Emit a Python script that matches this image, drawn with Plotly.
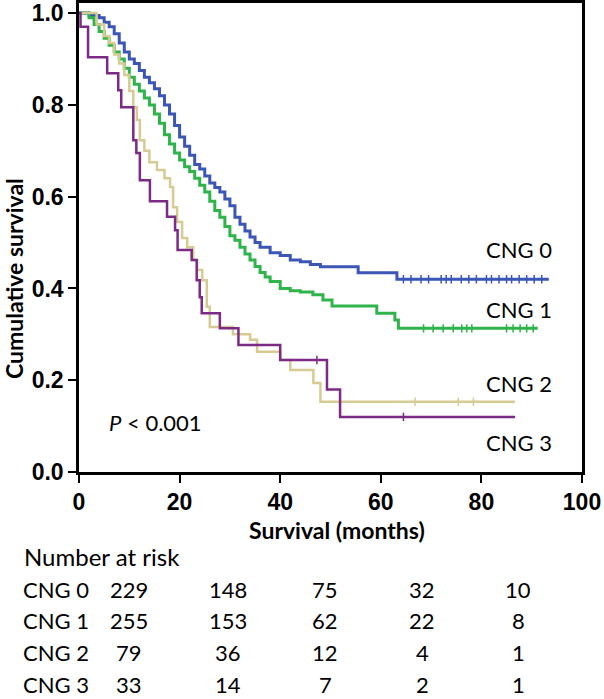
import plotly.graph_objects as go

# Kaplan-Meier curves (months, cumulative survival)
cng0_t = [0, 2, 4, 5, 6, 7, 8, 9, 10, 11, 12, 13, 14, 15, 16, 17, 18, 19, 20, 21, 22, 23, 24, 25,
          26, 27, 28, 29, 30, 31, 32, 33, 34, 35, 36, 38, 40, 42, 44, 46, 48, 55.5, 63.2, 93.4]
cng0_s = [1.0, 0.995, 0.99, 0.98, 0.97, 0.955, 0.935, 0.915, 0.9, 0.89, 0.875, 0.86, 0.848, 0.835,
          0.82, 0.80, 0.78, 0.755, 0.73, 0.71, 0.69, 0.67, 0.66, 0.645, 0.63, 0.62, 0.61, 0.595,
          0.58, 0.555, 0.54, 0.525, 0.512, 0.50, 0.49, 0.478, 0.472, 0.462, 0.458, 0.452, 0.447,
          0.434, 0.42, 0.42]
cng0_cens = [64.5, 66, 68, 69.5, 72, 73, 74, 76, 77.5, 79, 81, 82, 83.5, 85, 86, 87.5, 89, 90.5, 92]

cng1_t = [0, 2, 3, 4, 5, 6, 7, 8, 9, 10, 11, 12, 13, 14, 15, 16, 17, 18, 19, 20, 21, 22, 23, 24,
          25, 26, 27, 28, 29, 30, 31, 32, 33, 34, 35, 36, 37, 38, 40, 42, 44, 46.5, 48.5, 50.3,
          59.2, 62.8, 63.5, 91.2]
cng1_s = [1.0, 0.99, 0.975, 0.96, 0.945, 0.93, 0.915, 0.9, 0.88, 0.86, 0.845, 0.83, 0.815, 0.80,
          0.78, 0.76, 0.735, 0.715, 0.695, 0.68, 0.665, 0.655, 0.64, 0.625, 0.61, 0.59, 0.57,
          0.555, 0.535, 0.515, 0.505, 0.49, 0.475, 0.462, 0.448, 0.435, 0.425, 0.415, 0.40,
          0.395, 0.392, 0.386, 0.375, 0.362, 0.346, 0.331, 0.313, 0.313]
cng1_cens = [68.5, 70.4, 72.4, 74.4, 76.1, 77.1, 78.1, 85, 86.3, 87.7, 89, 90.3]

cng2_t = [0, 3.5, 5, 6, 7, 8, 9, 10, 10.8, 11.5, 12.1, 13, 14, 15.5, 17, 18.1, 18.7, 19.5, 20.5,
          21.5, 22.7, 23.5, 24.5, 25.4, 26, 30.6, 34, 35.4, 40, 42, 46.6, 48, 86.7]
cng2_s = [1.0, 0.975, 0.95, 0.935, 0.91, 0.89, 0.865, 0.83, 0.795, 0.767, 0.723, 0.70, 0.675,
          0.658, 0.64, 0.621, 0.577, 0.545, 0.51, 0.49, 0.462, 0.44, 0.418, 0.36, 0.316, 0.30,
          0.288, 0.262, 0.244, 0.222, 0.194, 0.153, 0.153]
cng2_cens = [66.8, 75.4, 78.4]

cng3_t = [0, 0.3, 1.8, 5.6, 7.8, 8.4, 10.8, 11.4, 12.1, 14.1, 17.5, 19.1, 19.6, 22.4, 23.4, 24.0,
          24.4, 28, 31.7, 40, 49.3, 51.9, 86.7]
cng3_s = [1.0, 0.97, 0.904, 0.869, 0.832, 0.795, 0.723, 0.695, 0.636, 0.59, 0.556, 0.527, 0.484,
          0.462, 0.418, 0.381, 0.346, 0.313, 0.277, 0.244, 0.18, 0.12, 0.12]
cng3_cens = [47.3, 64.5]

groups = ["CNG 0", "CNG 1", "CNG 2", "CNG 3"]
colors = ["#3b56b5", "#2fb34b", "#d5cb93", "#7b2b86"]

# number at risk table
risk_rows = [[229, 148, 75, 32, 10],
             [255, 153, 62, 22, 8],
             [79, 36, 12, 4, 1],
             [33, 14, 7, 2, 1]]

curves = [(cng0_t, cng0_s, cng0_cens), (cng1_t, cng1_s, cng1_cens),
          (cng2_t, cng2_s, cng2_cens), (cng3_t, cng3_s, cng3_cens)]

W, H = 604, 699
L, R, T, B = 79, 22, 3, 227
pw, ph = W - L - R, H - T - B


def px(x):
    return (x - L) / pw


def py(y):
    return (H - B - y) / ph


fig = go.Figure()

for (t, s, cens), name, col in zip(curves, groups, colors):
    fig.add_trace(go.Scatter(x=t, y=s, mode="lines", line_shape="hv", name=name,
                             line=dict(color=col, width=3 if col in colors[:2] else 2.5)))
    # censoring ticks
    cy = []
    for c in cens:
        v = s[0]
        for ti, si in zip(t, s):
            if ti <= c:
                v = si
        cy.append(v)
    fig.add_trace(go.Scatter(x=cens, y=cy, mode="markers", showlegend=False,
                             marker=dict(symbol="line-ns-open", size=6, color=col,
                                         line=dict(color=col, width=1.5))))

txt_font = dict(family="Lato", size=22, color="black")

# curve labels
label_y = [0.484, 0.355, 0.192, 0.065]
for name, yy in zip(groups, label_y):
    fig.add_annotation(x=87.5, y=yy, xref="x", yref="y", text=name, showarrow=False,
                       xanchor="center", yanchor="middle", font=txt_font)

fig.add_annotation(x=5.6, y=0.107, xref="x", yref="y", text="<i>P</i> < 0.001",
                   showarrow=False, xanchor="left", yanchor="middle", font=txt_font)

# axis titles
fig.add_annotation(x=px(14), y=py(279), xref="paper", yref="paper", text="Cumulative survival",
                   textangle=-90, showarrow=False, xanchor="center", yanchor="middle",
                   font=dict(family="Lato", size=23, color="black", weight="bold"))
fig.add_annotation(x=px(337), y=py(530), xref="paper", yref="paper", text="Survival (months)",
                   showarrow=False, xanchor="center", yanchor="middle",
                   font=dict(family="Lato", size=23, color="black", weight="bold"))

# risk table
fig.add_annotation(x=px(22), y=py(556), xref="paper", yref="paper", text="Number at risk",
                   showarrow=False, xanchor="left", yanchor="middle",
                   font=dict(family="Lato", size=24, color="black"))
row_y = [589, 620, 652, 684]
col_x = [129, 228, 325, 422, 518]
for name, vals, ry in zip(groups, risk_rows, row_y):
    fig.add_annotation(x=px(22), y=py(ry), xref="paper", yref="paper", text=name,
                       showarrow=False, xanchor="left", yanchor="middle", borderpad=0,
                       font=txt_font)
    for v, cx in zip(vals, col_x):
        fig.add_annotation(x=px(cx), y=py(ry), xref="paper", yref="paper", text=str(v),
                           showarrow=False, xanchor="center", yanchor="middle", borderpad=0,
                           font=txt_font)

tick_font = dict(family="Liberation Sans, Arial", size=23, color="black", weight="bold")
fig.update_xaxes(range=[0, 100], tickvals=[0, 20, 40, 60, 80, 100], ticks="outside",
                 ticklen=8, tickwidth=1.5, tickcolor="black", showline=True, linewidth=2.5,
                 linecolor="black", mirror=True, showgrid=False, zeroline=False,
                 tickfont=tick_font, automargin=False)
fig.update_yaxes(range=[0, 1.022], tickvals=[0, 0.2, 0.4, 0.6, 0.8, 1.0], tickformat=".1f",
                 ticks="outside", ticklen=8, tickwidth=1.5, tickcolor="black", showline=True,
                 linewidth=2.5, linecolor="black", mirror=True, showgrid=False, zeroline=False,
                 tickfont=tick_font, automargin=False)

fig.update_layout(width=W, height=H, margin=dict(l=L, r=R, t=T, b=B),
                  plot_bgcolor="white", paper_bgcolor="white", showlegend=False)

# drop the browser's default body margin so the figure sits at the page corner
fig.write_html("out.html", config={"displayModeBar": False},
               post_script="document.body.style.margin='0';document.body.style.overflow='hidden';")
